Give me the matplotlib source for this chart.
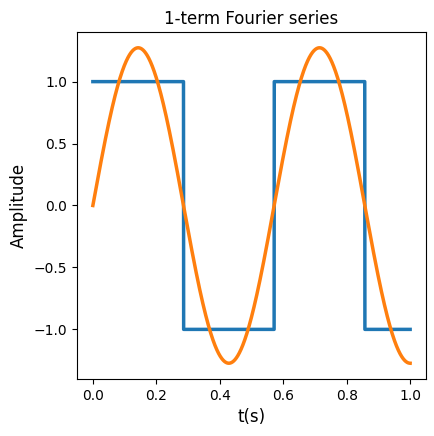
import numpy as np
import matplotlib
matplotlib.use("Agg")
import matplotlib.pyplot as plt

freq = 1.75          # Hz
n_terms = 1
t = np.linspace(0, 1, 2000)
square = np.sign(np.sin(2 * np.pi * freq * t))
square[0] = 1
fourier = np.zeros_like(t)
for k in range(n_terms):
    n = 2 * k + 1
    fourier += 4 / (np.pi * n) * np.sin(2 * np.pi * n * freq * t)

fig = plt.figure(figsize=(4.35, 4.36), dpi=100)
ax = fig.add_axes([77/435, 57/436, 349/435, 347/436])
ax.plot(t, square, lw=2.5, color="#1f77b4")
ax.plot(t, fourier, lw=2.5, color="#ff7f0e")
ax.set_title("1-term Fourier series", fontsize=12)
ax.set_xlabel("t(s)", fontsize=12)
ax.set_ylabel("Amplitude", fontsize=12)
fig.savefig("out.png", dpi=100)
